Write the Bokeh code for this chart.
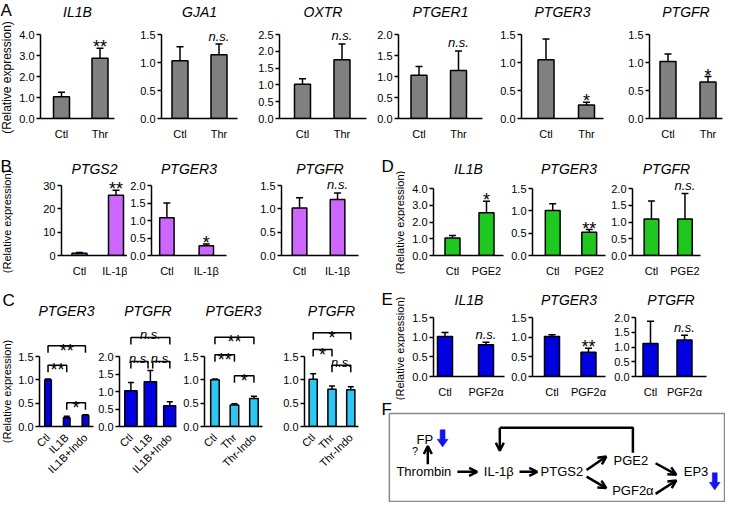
import math
from bokeh.plotting import figure
from bokeh.layouts import row, column
from bokeh.models import Range1d, FixedTicker, NumeralTickFormatter, Arrow, OpenHead
from bokeh.core.properties import value
from bokeh.embed import file_html
from bokeh.resources import INLINE

FONT = "Liberation Sans"
YLABEL = "(Relative expression)"

# ---------------- data ----------------
# Panel A - thrombin
A_genes = ["IL1B", "GJA1", "OXTR", "PTGER1", "PTGER3", "PTGFR"]
A_groups = ["Ctl", "Thr"]
A_means = [[1.03, 2.87], [1.03, 1.14], [1.02, 1.75], [1.03, 1.14], [1.05, 0.24], [1.02, 0.65]]
A_errs = [[0.22, 0.47], [0.25, 0.19], [0.16, 0.47], [0.21, 0.47], [0.37, 0.05], [0.13, 0.10]]
A_sig = ["**", "n.s.", "n.s.", "n.s.", "*", "*"]
A_ymax = [4.0, 1.5, 2.5, 2.0, 1.5, 1.5]
A_step = [1.0, 0.5, 0.5, 0.5, 0.5, 0.5]

# Panel B - IL-1beta
B_genes = ["PTGS2", "PTGER3", "PTGFR"]
B_groups = ["Ctl", "IL-1β"]
B_means = [[1.0, 25.8], [1.08, 0.28], [1.02, 1.20]]
B_errs = [[0.3, 2.2], [0.42, 0.05], [0.22, 0.14]]
B_sig = ["**", "*", "n.s."]
B_ymax = [30, 2.0, 1.5]
B_step = [10, 0.5, 0.5]

# Panel C - indomethacin
C_genes = ["PTGER3", "PTGFR", "PTGER3", "PTGFR"]
C_groups = [["Ctl", "IL1B", "IL1B+Indo"], ["Ctl", "IL1B", "IL1B+Indo"],
            ["Ctl", "Thr", "Thr-Indo"], ["Ctl", "Thr", "Thr-Indo"]]
C_means = [[1.0, 0.19, 0.24], [1.02, 1.28, 0.59], [1.0, 0.46, 0.60], [1.01, 0.80, 0.79]]
C_errs = [[0.02, 0.03, 0.01], [0.24, 0.32, 0.12], [0.02, 0.03, 0.05], [0.12, 0.07, 0.06]]
C_ymax = [1.5, 2.0, 1.5, 1.5]
C_step = [0.5, 0.5, 0.5, 0.5]
C_brackets = [
    [(0, 2, 1.73, "**"), (0, 1, 1.31, "**"), (1, 2, 0.51, "*")],
    [(0, 2, 2.54, "n.s."), (0, 1, 1.86, "n.s."), (1, 2, 1.86, "n.s.")],
    [(0, 2, 1.91, "**"), (0, 1, 1.54, "**"), (1, 2, 1.09, "*")],
    [(0, 2, 2.01, "*"), (0, 1, 1.65, "*"), (1, 2, 1.31, "n.s.")],
]

# Panel D - PGE2
D_genes = ["IL1B", "PTGER3", "PTGFR"]
D_groups = ["Ctl", "PGE2"]
D_means = [[1.05, 2.55], [1.01, 0.52], [1.09, 1.09]]
D_errs = [[0.14, 0.69], [0.15, 0.06], [0.54, 0.76]]
D_sig = ["*", "**", "n.s."]
D_ymax = [4.0, 1.5, 2.0]
D_step = [1.0, 0.5, 0.5]

# Panel E - PGF2alpha
E_genes = ["IL1B", "PTGER3", "PTGFR"]
E_groups = ["Ctl", "PGF2α"]
E_means = [[1.02, 0.81], [1.02, 0.62], [1.12, 1.24]]
E_errs = [[0.10, 0.06], [0.04, 0.10], [0.75, 0.16]]
E_sig = ["n.s.", "**", "n.s."]
E_ymax = [1.5, 1.5, 2.0]
E_step = [0.5, 0.5, 0.5]

# Panel F - scheme
F_labels = ["Thrombin", "IL-1β", "PTGS2", "PGE2", "PGF2α", "EP3", "FP", "?"]

GRAY = "#808080"
VIOLET = "#CC66FF"
GREEN = "#1EC81E"
BLUE = "#0000E0"
CYAN = "#2EC6F2"
ARROW_BLUE = "#1414F0"


def blank(width, height):
    g = figure(width=width, height=height, x_range=Range1d(0, width), y_range=Range1d(0, height),
               output_backend="svg", toolbar_location=None, title=None,
               min_border_left=0, min_border_right=0, min_border_top=0, min_border_bottom=0)
    g.axis.visible = False
    g.grid.visible = False
    g.outline_line_color = None
    return g


def gutter(width, height, letters, ylabels):
    """Panel letters and the rotated y captions, positioned in pixels from the top-left."""
    g = blank(width, height)
    for (txt, lx, ly) in letters:
        g.text(x=[lx], y=[height - ly], text=[txt], text_font=value(FONT), text_font_size="17px",
               text_baseline="top", text_align="left", text_color="black")
    for (cx, cy, fs) in ylabels:
        g.text(x=[cx], y=[height - cy], text=[YLABEL], text_font=value(FONT), text_font_size=fs,
               angle=math.pi / 2, text_baseline="middle", text_align="center", text_color="black")
    return g


def sig_text(p, x, y, lab, star_dy=4):
    italic = lab == "n.s."
    p.text(x=[x], y=[y], text=[lab], text_font=value(FONT),
           text_font_size="13px" if italic else "18px",
           text_font_style="italic" if italic else "normal",
           text_align="center", text_baseline="alphabetic",
           y_offset=(-3 if italic else star_dy), text_color="black")


def chart(gene, groups, means, errs, color, ymax, step, fmt, rowgeo, colgeo, o, S, bar_px,
          sig=None, brackets=None, rotate=False, cap_px=7):
    height, top_b, bot_b, tick_top, t_standoff = rowgeo
    width, L, R = colgeo
    frame_w = width - L - R
    frame_h = height - top_b - bot_b
    tick_span = height - bot_b - tick_top
    y_end = ymax * frame_h / tick_span
    n = len(groups)
    xs = list(range(1, n + 1))
    x0 = 1 - o / S
    x1 = x0 + frame_w / S
    p = figure(width=width, height=height, x_range=Range1d(x0, x1), y_range=Range1d(0, y_end),
               output_backend="svg", toolbar_location=None, title=gene,
               min_border_left=L, min_border_right=R, min_border_top=top_b, min_border_bottom=bot_b)
    p.outline_line_color = None
    p.grid.visible = False
    p.title.text_font = FONT
    p.title.text_font_style = "italic"
    p.title.text_font_size = "14px"
    p.title.text_color = "black"
    p.title.align = "center"
    p.title.standoff = t_standoff

    ticks = [round(i * step, 6) for i in range(int(round(ymax / step)) + 1)]
    ya = p.yaxis[0]
    ya.ticker = FixedTicker(ticks=ticks)
    ya.formatter = NumeralTickFormatter(format=fmt)
    ya.bounds = (0, ymax)
    ya.axis_line_width = 1.5
    ya.axis_line_color = "black"
    ya.major_tick_line_width = 1.5
    ya.major_tick_line_color = "black"
    ya.major_tick_in = 0
    ya.major_tick_out = 4
    ya.minor_tick_line_color = None
    ya.major_label_text_font = FONT
    ya.major_label_text_font_size = "11px"
    ya.major_label_text_color = "black"
    ya.major_label_standoff = 2

    xa = p.xaxis[0]
    xa.ticker = FixedTicker(ticks=xs)
    xa.major_label_overrides = {x: g for x, g in zip(xs, groups)}
    xa.axis_line_width = 1.5
    xa.axis_line_color = "black"
    xa.major_tick_line_color = None
    xa.minor_tick_line_color = None
    xa.major_label_text_font = FONT
    xa.major_label_text_font_size = "11px"
    xa.major_label_text_color = "black"
    xa.major_label_standoff = 3
    if rotate:
        xa.major_label_orientation = math.pi / 4

    tops = [m + e for m, e in zip(means, errs)]
    p.vbar(x=xs, top=means, bottom=0, width=bar_px / S, fill_color=color,
           line_color="black", line_width=1.5)
    p.segment(x0=xs, y0=means, x1=xs, y1=tops, line_color="black", line_width=1.5)
    p.scatter(x=xs, y=tops, marker="dash", size=cap_px, line_color="black", line_width=1.5)

    if sig is not None:
        if sig == "n.s.":
            p.text(x=[xs[-1]], y=[tops[-1]], text=[sig], text_font=value(FONT),
                   text_font_size="13px", text_font_style="italic",
                   text_align="center", text_baseline="alphabetic", y_offset=-8, text_color="black")
        else:
            sig_text(p, xs[-1], tops[-1], sig, star_dy=-1)

    if brackets:
        drop = 7 * y_end / frame_h
        ends = {}
        for (i, j, lvl, lab) in brackets:
            ends.setdefault(lvl, []).append((i, j))
        for (i, j, lvl, lab) in brackets:
            xi, xj = xs[i], xs[j]
            shared = [k for (a, b) in ends[lvl] if (a, b) != (i, j) for k in (a, b)]
            if i in shared:
                xi += 0.12
            if j in shared:
                xj -= 0.12
            p.line([xi, xi, xj, xj], [lvl - drop, lvl, lvl, lvl - drop],
                   line_color="black", line_width=1.5)
            sig_text(p, (xi + xj) / 2, lvl, lab, star_dy=5)
    return p


# ---------------- row A ----------------
rowA_geo = (155, 21, 37, 34, 3)
A_cols = [(101, 24, 3), (123, 44, 3), (129, 39, 3), (116, 29, 3), (121, 36, 3), (119, 43, 3)]
A_off = [(21, 38.5), (18.5, 39), (23, 39.5), (20.5, 39.5), (24.5, 40.5), (18.5, 40)]
gutter_A = gutter(16, 155, [("A", 0, 0)], [(6, 77, "12px")])
A_figs = []
for k in range(6):
    A_figs.append(chart(A_genes[k], A_groups, A_means[k], A_errs[k], GRAY, A_ymax[k], A_step[k], "0.0",
                        rowA_geo, A_cols[k], A_off[k][0], A_off[k][1], 16, sig=A_sig[k]))

# ---------------- row B ----------------
rowB_geo = (133, 23, 33, 30, 3)
B_cols = [(112, 46, 0), (130, 21, 31), (122, 22, 21)]
B_off = [(18, 36.5), (16, 41), (18.5, 39)]
B_fmt = ["0", "0.0", "0.0"]
B_figs = []
for k in range(3):
    B_figs.append(chart(B_genes[k], B_groups, B_means[k], B_errs[k], VIOLET, B_ymax[k], B_step[k], B_fmt[k],
                        rowB_geo, B_cols[k], B_off[k][0], B_off[k][1], 15, sig=B_sig[k]))

# ---------------- row C ----------------
rowC_geo = (214, 33, 76, 68, 5)
C_cols = [(80, 21, 2), (85, 21, 4), (100, 21, 18), (99, 22, 21)]
C_off = [(9, 19.75), (12, 20.5), (11, 20.5), (9, 19.5)]
C_bar = [7, 13, 9, 8.5]
C_col = [BLUE, BLUE, CYAN, CYAN]
C_figs = []
for k in range(4):
    C_figs.append(chart(C_genes[k], C_groups[k], C_means[k], C_errs[k], C_col[k], C_ymax[k], C_step[k], "0.0",
                        rowC_geo, C_cols[k], C_off[k][0], C_off[k][1], C_bar[k], brackets=C_brackets[k],
                        rotate=True, cap_px=6))

gutter_BC = gutter(15, 133 + 214, [("B", 0, 1), ("C", 2, 133 + 2)],
                   [(6, 66, "11px"), (6, 133 + 103, "11px")])

# ---------------- row D ----------------
rowD_geo = (133, 23, 33, 33, 3)
D_cols = [(103, 28, 5), (100, 23, 3), (117, 22, 25)]
D_off = [(19, 34), (20.5, 37), (19.5, 34.5)]
D_figs = []
for k in range(3):
    D_figs.append(chart(D_genes[k], D_groups, D_means[k], D_errs[k], GREEN, D_ymax[k], D_step[k], "0.0",
                        rowD_geo, D_cols[k], D_off[k][0], D_off[k][1], 15, sig=D_sig[k]))

# ---------------- row E ----------------
rowE_geo = (112, 18, 19, 27, 3)
E_cols = [(103, 28, 4), (103, 24, 6), (114, 24, 19)]
E_off = [(11.5, 41), (19.5, 36.5), (15, 34)]
E_figs = []
for k in range(3):
    E_figs.append(chart(E_genes[k], E_groups, E_means[k], E_errs[k], BLUE, E_ymax[k], E_step[k], "0.0",
                        rowE_geo, E_cols[k], E_off[k][0], E_off[k][1], 15, sig=E_sig[k]))

gutter_DE = gutter(26, 133 + 112, [("D", 2, 1), ("E", 2, 133 + 1)],
                   [(20, 67, "11px"), (20, 133 + 60, "11px")])

# ---------------- panel F (scheme) ----------------
FW, FH = 346, 102
pf = blank(FW, FH)


def fx(rx):
    return (rx - 388) * 0.986


def fy(ry):
    return FH - (13 + (ry - 425) * 88 / 92)


pf.quad(left=[fx(398)], right=[FW - 1], top=[fy(425)], bottom=[1], fill_color=None,
        line_color="#8a8a8a", line_width=1.5)
pf.text(x=[fx(390)], y=[FH + 1], text=["F"], text_font=value(FONT), text_font_size="17px",
        text_baseline="top", text_align="left", text_color="black")

node_ref = [(433, 486), (509, 486), (573, 486), (643, 474), (645, 506), (709, 486), (434, 452), (424, 464)]
node_size = ["13px"] * 7 + ["11px"]
for lab, (rx, ry), fs in zip(F_labels, node_ref, node_size):
    pf.text(x=[fx(rx)], y=[fy(ry)], text=[lab], text_font=value(FONT), text_font_size=fs,
            text_align="center", text_baseline="middle", text_color="black")

black_arrows = [((437, 478), (437, 459)), ((467, 486), (487, 486)), ((530, 486), (548, 486)),
                ((598, 484), (618, 470)), ((598, 491), (618, 503)), ((668, 477), (689, 489)),
                ((668, 509), (689, 495)), ((510, 440), (510, 464))]
for (a, b) in black_arrows:
    pf.add_layout(Arrow(x_start=fx(a[0]), y_start=fy(a[1]), x_end=fx(b[0]), y_end=fy(b[1]),
                        line_color="black", line_width=2.5,
                        end=OpenHead(size=8, line_width=2.5, line_color="black")))
pf.line([fx(645), fx(645), fx(510)], [fy(466), fy(440), fy(440)], line_color="black", line_width=2.5)

for (cx, y0, y1) in [(452, 442, 460), (728, 487, 505)]:
    px = [cx - 2.5, cx + 2.5, cx + 2.5, cx + 5.5, cx, cx - 5.5, cx - 2.5]
    py = [y0, y0, y1 - 8, y1 - 8, y1, y1 - 8, y1 - 8]
    pf.patch([fx(v) for v in px], [fy(v) for v in py], fill_color=ARROW_BLUE, line_color=ARROW_BLUE,
             line_width=0.5)

# ---------------- layout ----------------
# the gutters sit beside nested layouts (not beside plots) so their frames stay full-size
top_row = row(gutter_A, row(*A_figs))
left_col = row(gutter_BC, column(row(*B_figs), row(*C_figs)))
right_col = column(row(gutter_DE, column(row(*D_figs), row(*E_figs))), pf)
layout = column(top_row, row(left_col, right_col))

open("out.html", "w").write(file_html(layout, INLINE))
